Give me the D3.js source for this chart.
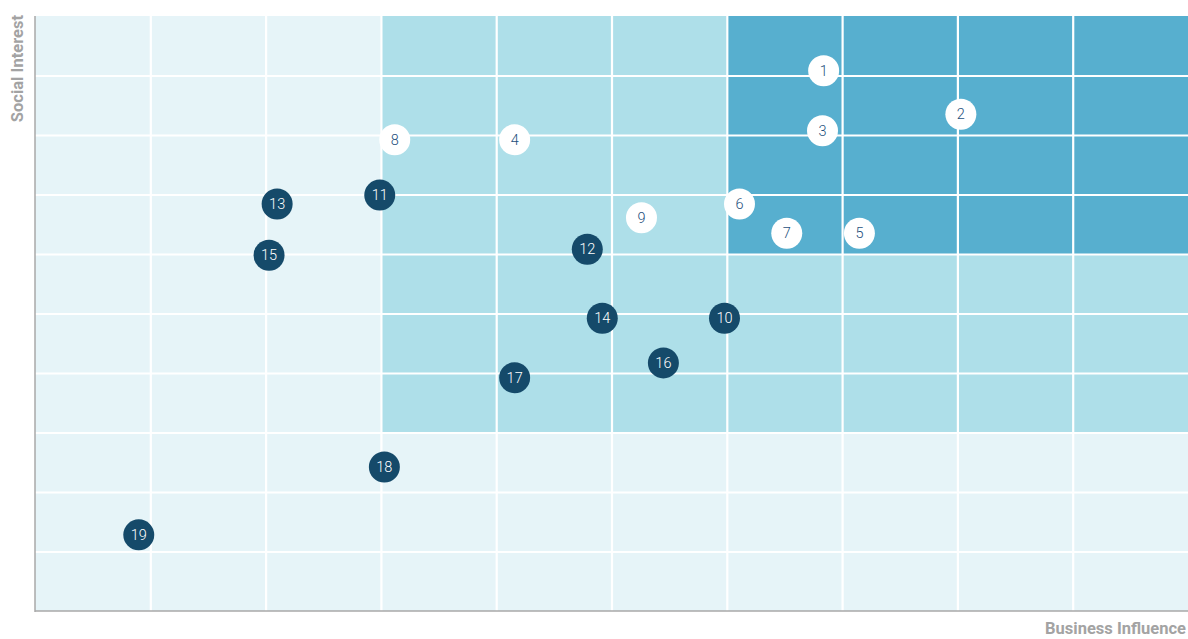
<!DOCTYPE html>
<html><head><meta charset="utf-8">
<script src="https://cdn.jsdelivr.net/npm/d3@7"></script>
<style>body{margin:0;background:#fff;} svg{display:block;}</style>
</head><body>
<svg id="c" width="1188" height="639"></svg>
<script>
const labels = ["1","2","3","4","5","6","7","8","9","10","11","12","13","14","15","16","17","18","19"];
const businessInfluence = [6.84,8.03,6.83,4.16,7.15,6.11,6.52,3.12,5.26,5.98,2.99,4.79,2.10,4.92,2.03,5.45,4.16,3.03,0.90];
const socialInterest =    [9.08,8.35,8.07,7.92,6.35,6.84,6.35,7.92,6.61,4.92,6.99,6.08,6.84,4.92,5.98,4.17,3.92,2.42,1.28];
const group = ["light","light","light","light","light","light","light","light","light","dark","dark","dark","dark","dark","dark","dark","dark","dark","dark"];
const zones = [
  {x0:0,x1:10,y0:0,y1:10,fill:"#e6f4f8"},
  {x0:3,x1:10,y0:3,y1:10,fill:"#aedfe9"},
  {x0:6,x1:10,y0:6,y1:10,fill:"#57afcf"}
];
const gridTicks = d3.range(0,11);

const svg = d3.select("#c");
const m = {l:35, r:0, t:16, b:28};
const W = 1188, H = 639;
const x = d3.scaleLinear().domain([0,10]).range([m.l, W-m.r]);
const y = d3.scaleLinear().domain([0,10]).range([H-m.b, m.t]);

svg.selectAll("rect.zone").data(zones).enter().append("rect")
  .attr("x", d=>x(d.x0)).attr("y", d=>y(d.y1))
  .attr("width", d=>x(d.x1)-x(d.x0)).attr("height", d=>y(d.y0)-y(d.y1))
  .attr("fill", d=>d.fill);

svg.append("g").attr("transform",`translate(0,${y(0)})`)
  .call(d3.axisBottom(x).tickValues(gridTicks.slice(1,10)).tickSize(-(y(0)-y(10))).tickFormat(""))
  .call(g=>g.select(".domain").remove())
  .call(g=>g.selectAll("line").attr("stroke","#fff").attr("stroke-width",2.2));
svg.append("g").attr("transform",`translate(${x(0)},0)`)
  .call(d3.axisLeft(y).tickValues(gridTicks.slice(1,10)).tickSize(-(x(10)-x(0))).tickFormat(""))
  .call(g=>g.select(".domain").remove())
  .call(g=>g.selectAll("line").attr("stroke","#fff").attr("stroke-width",2.2));

svg.append("line").attr("x1",x(0)).attr("x2",x(0)).attr("y1",y(10)).attr("y2",y(0)+1)
  .attr("stroke","#a8a8a8").attr("stroke-width",1.5);
svg.append("line").attr("x1",x(0)).attr("x2",x(10)).attr("y1",y(0)).attr("y2",y(0))
  .attr("stroke","#a8a8a8").attr("stroke-width",1.5);

const pts = labels.map((l,i)=>({l, bx:businessInfluence[i], sy:socialInterest[i], g:group[i]}));
const node = svg.selectAll("g.pt").data(pts).enter().append("g")
  .attr("transform", d=>`translate(${x(d.bx)},${y(d.sy)})`);
node.append("circle").attr("r",15.5)
  .attr("fill", d=>d.g==="dark" ? "#154a6a" : "#ffffff");
node.append("text").text(d=>d.l)
  .attr("text-anchor","middle").attr("dy","0.36em")
  .attr("font-family","Roboto, 'DejaVu Sans', sans-serif")
  .attr("font-weight",300)
  .attr("font-size",14.5)
  .attr("fill", d=>d.g==="dark" ? "#ffffff" : "#1d4f7c");

svg.append("text").text("Social Interest")
  .attr("transform",`translate(23,15) rotate(-90)`)
  .attr("text-anchor","end")
  .attr("font-family","Roboto, 'Open Sans', sans-serif").attr("font-weight","bold")
  .attr("font-size",16.5).attr("fill","#a3a3a3");
svg.append("text").text("Business Influence")
  .attr("x",1186).attr("y",634)
  .attr("text-anchor","end")
  .attr("font-family","Roboto, 'Open Sans', sans-serif").attr("font-weight","bold")
  .attr("font-size",16.5).attr("fill","#a3a3a3");
</script>
</body></html>
